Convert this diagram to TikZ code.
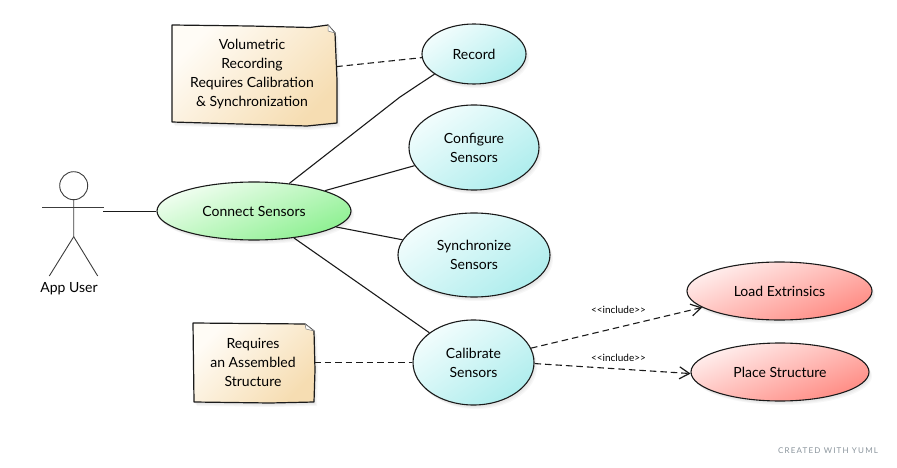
\documentclass[tikz,border=0pt]{standalone}
\usepackage{fontspec}
\setmainfont{Lato}
\newfontfamily\markfont[LetterSpace=15]{Lato}
\usetikzlibrary{shapes.geometric,arrows.meta}
\definecolor{inkc}{HTML}{1A1A1A}
\definecolor{greenend}{HTML}{8CF090}
\definecolor{greenstart}{HTML}{F2FEF2}
\definecolor{cyanend}{HTML}{AEEDED}
\definecolor{cyanstart}{HTML}{F2FDFD}
\definecolor{redend}{HTML}{FF8A82}
\definecolor{redstart}{HTML}{FFF0EF}
\definecolor{noteend}{HTML}{F6DDB2}
\definecolor{notestart}{HTML}{FFFCF6}
\definecolor{wmark}{HTML}{8A949C}
\tikzset{
  softshadow/.style={
    preaction={fill=black,fill opacity=.03,transform canvas={shift={(1pt,-2pt)}}},
    preaction={fill=black,fill opacity=.03,transform canvas={shift={(2pt,-3pt)}}},
    preaction={fill=black,fill opacity=.03,transform canvas={shift={(3pt,-4pt)}}}},
  usecase/.style={ellipse,draw=inkc,line width=1.1pt,inner sep=0pt,align=center,softshadow,
    font=\fontsize{14}{19}\selectfont},
  greencase/.style={usecase,top color=greenstart,bottom color=greenend,shading angle=22},
  cyancase/.style={usecase,top color=cyanstart,bottom color=cyanend,shading angle=35},
  redcase/.style={usecase,top color=redstart,bottom color=redend,shading angle=22},
  noteshape/.style={draw=inkc,line width=1.2pt,line join=round,softshadow,
    top color=notestart,bottom color=noteend,shading angle=45},
  notefold/.style={draw=gray,line width=.5pt,fill=white},
  notetext/.style={inner sep=0pt,align=center,font=\fontsize{14}{18.7}\selectfont},
  assoc/.style={draw=inkc,line width=1.1pt},
  notelink/.style={assoc,dash pattern=on 6.5pt off 4pt},
  incl/.style={notelink,-{Straight Barb[length=10pt,width=12pt,line width=1.2pt]}},
  actorline/.style={draw=inkc!85,line width=.9pt},
  tag/.style={inner sep=0pt,font=\fontsize{10}{12}\selectfont}
}
\begin{document}
\begin{tikzpicture}[x=1pt,y=-1pt]
\useasboundingbox (0,0) rectangle (897,468);

% notes
\path[noteshape] (172,25) -- (250,26) -- (310,27.5) -- (328,25) -- (335,33) -- (337,80) -- (337,123) -- (307,126) -- (172,122) -- cycle;
\path[notefold] (328,25) -- (335,33) -- (328,31) -- cycle;
\node[notetext,minimum width=168pt,minimum height=98pt] (note1) at (252,74)
  {Volumetric\\Recording\\Requires Calibration\\\&~Synchronization};

\path[noteshape] (193,323) -- (250,323.5) -- (305,324) -- (314,331) -- (315,370) -- (314,402) -- (270,403) -- (194,402) -- cycle;
\path[notefold] (305,324) -- (314,331) -- (306,329) -- cycle;
\node[notetext,minimum width=122pt,minimum height=79pt] (note2) at (253,362.5)
  {Requires\\an Assembled\\Structure};

% use cases
\node[cyancase,minimum width=104pt,minimum height=60pt] (record) at (474,54) {Record};
\node[cyancase,minimum width=130pt,minimum height=85pt] (configure) at (474,147.5) {Configure\\Sensors};
\node[cyancase,minimum width=152pt,minimum height=84pt] (sync) at (474,255) {Synchronize\\Sensors};
\node[cyancase,minimum width=121pt,minimum height=85pt] (calibrate) at (473.5,362.5) {Calibrate\\Sensors};
\node[greencase,minimum width=194pt,minimum height=58pt] (connect) at (254,211) {Connect Sensors};
\node[redcase,minimum width=185pt,minimum height=58pt] (load) at (779.5,291) {Load Extrinsics};
\node[redcase,minimum width=178pt,minimum height=58pt] (place) at (780,372) {Place Structure};

% actor
\draw[actorline] (73.7,185.7) circle (14);
\draw[actorline] (42,207.7) -- (104,207.7);
\draw[actorline] (73.7,199.7) -- (73.7,236.7) -- (49.3,276);
\draw[actorline] (73.7,236.7) -- (97.7,276);
\node[inner sep=0pt,font=\fontsize{14}{16}\selectfont] (actorlabel) at (69,289) {App User};
\coordinate (actor) at (103,211.5);
\coordinate (bend) at (400,97);

% connectors
\draw[assoc] (actor) -- (connect.west |- actor);
\draw[assoc] (connect.38.5) -- (bend) -- (record.207.8);
\draw[assoc] (connect.16) -- (configure.197);
\draw[assoc] (connect.-11.2) -- (sync.168.5);
\draw[assoc] (connect.-34.7) -- (calibrate.146.6);
\draw[notelink] (note1.5.6) -- (record.184.5);
\draw[notelink] (note2.east) -- (calibrate.west);
\draw[incl] (calibrate.14) -- (load.192.9);
\draw[incl] (calibrate.-1.7) -- (place.181.7);

% labels
\node[tag] (incl1) at (618.5,310) {<{}<include>{}>};
\node[tag] (incl2) at (618.5,357.5) {<{}<include>{}>};
\node[inner sep=0pt,text=wmark,font=\markfont\fontsize{8}{9}\selectfont] (mark) at (828,451) {CREATED WITH YUML};
\end{tikzpicture}
\end{document}
